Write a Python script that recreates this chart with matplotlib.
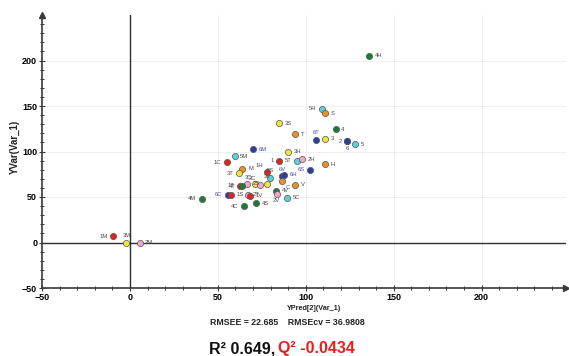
import matplotlib
matplotlib.use("Agg")
import matplotlib.pyplot as plt
from matplotlib.ticker import MultipleLocator

plt.rcParams['font.family'] = ['Liberation Sans', 'DejaVu Sans']

# ---- data ----
labels = ["1M", "3M", "2M", "4M", "4H", "5H", "S", "3S", "T", "4", "6T", "3", "2", "6", "5",
          "6M", "3H", "5M", "1C", "1", "5T", "2H", "H", "6S", "M", "3T", "1H", "5S", "6V", "6H",
          "C", "V", "2S", "3C", "2C", "3V", "1T", "4T", "4V", "6C", "1S", "2T", "1V", "2V", "5C",
          "4C", "4S"]
xpred = [-9.5, -2.0, 5.5, 41.0, 136.0, 109.0, 111.0, 85.0, 94.0, 117.0, 106.0, 111.0, 123.5, 123.5, 128.0,
         70.0, 90.0, 59.5, 55.0, 85.0, 95.0, 97.7, 111.0, 102.5, 64.0, 62.0, 78.0, 79.7, 86.4, 87.7,
         86.4, 94.0, 66.5, 71.2, 74.0, 78.2, 62.7, 63.6, 83.0, 55.8, 57.3, 66.9, 68.4, 83.5, 89.4,
         64.6, 71.6]
yvar = [7.0, 0.0, 0.0, 48.0, 205.0, 147.0, 142.0, 131.0, 119.0, 124.5, 113.0, 114.0, 111.5, 111.5, 108.0,
        102.5, 100.0, 95.0, 88.0, 90.0, 90.0, 91.6, 86.0, 80.0, 81.0, 76.0, 77.5, 71.0, 72.6, 74.5,
        68.0, 63.5, 64.6, 64.6, 63.5, 64.6, 62.4, 61.7, 57.0, 52.2, 52.4, 52.6, 51.5, 53.7, 49.0,
        40.0, 43.0]
series = ["1", "3", "2", "4", "4", "5", "0", "3", "0", "4", "6", "3", "6", "6", "5",
          "6", "3", "5", "1", "1", "5", "2", "0", "6", "0", "3", "1", "5", "6", "6",
          "0", "0", "2", "3", "2", "3", "1", "4", "4", "6", "1", "2", "1", "2", "5",
          "4", "4"]
label_side = ["l", "u", "r", "l", "r", "l", "r", "r", "r", "r", "u", "r", "l", "d", "r",
              "r", "r", "r", "l", "l", "l", "r", "r", "l", "r", "l", "ul", "u", "u", "r",
              "dr", "r", "r", "ul", "ul", "u", "l", "l", "r", "l", "r", "r", "r", "d", "r",
              "l", "r"]

rmsee_text = "RMSEE = 22.685    RMSEcv = 36.9808"
r2_text = "R² 0.649,"
q2_text = "Q² -0.0434"

# ---- style ----
colors = {"0": "#e8922a", "1": "#e02424", "2": "#f3a6c8", "3": "#f0e33c",
          "4": "#1e7b34", "5": "#5ccfd8", "6": "#2b3f9e"}
offsets = {"r": ((4, 0), "left", "center"), "l": ((-4, 0), "right", "center"),
           "u": ((0, 3.5), "center", "bottom"), "d": ((0, -3.5), "center", "top"),
           "ul": ((-2.5, 3), "right", "bottom"), "dr": ((2.5, -3), "left", "top")}

fig = plt.figure(figsize=(5.69, 3.56), dpi=100)
W, H = 569, 356
ax = fig.add_axes([42 / W, (H - 288) / H, (566 - 42) / W, (288 - 15) / H])
ax.set_xlim(-50, 248)
ax.set_ylim(-50, 250)

for s in ["top", "right"]:
    ax.spines[s].set_visible(False)
for s in ["left", "bottom"]:
    ax.spines[s].set_color("#3a3a3a")
    ax.spines[s].set_linewidth(1.2)
ax.plot(1, 0, ">", color="#3a3a3a", ms=5, transform=ax.transAxes, clip_on=False)
ax.plot(0, 1, "^", color="#3a3a3a", ms=5, transform=ax.transAxes, clip_on=False)

ax.xaxis.set_major_locator(MultipleLocator(50))
ax.yaxis.set_major_locator(MultipleLocator(50))
ax.xaxis.set_minor_locator(MultipleLocator(10))
ax.yaxis.set_minor_locator(MultipleLocator(10))
ax.tick_params(which="major", direction="inout", length=4, width=0.8, color="#3a3a3a",
               labelsize=6.5, pad=1.5)
ax.tick_params(which="minor", direction="inout", length=2.5, width=0.7, color="#3a3a3a")
ax.set_xticks([-50, 0, 50, 100, 150, 200])
ax.set_yticks([-50, 0, 50, 100, 150, 200])
for t in ax.get_xticklabels() + ax.get_yticklabels():
    t.set_fontweight("bold")

ax.grid(True, which="major", color="#ececec", lw=0.6)
ax.set_axisbelow(True)
ax.axhline(0, color="#303030", lw=1.0, zorder=1)
ax.axvline(0, color="#303030", lw=1.0, zorder=1)

for lab, xv, yv, sr, side in zip(labels, xpred, yvar, series, label_side):
    ax.scatter(xv, yv, s=20, color=colors[sr], edgecolors="#555555", linewidths=0.5, zorder=3)
    (dx, dy), ha, va = offsets[side]
    tc = "#4a4ac0" if sr == "6" else "#4a4a4a"
    ax.annotate(lab, (xv, yv), xytext=(dx, dy), textcoords="offset points",
                ha=ha, va=va, fontsize=4.2, color=tc, zorder=4)

fig.text(15 / W, 1 - 147 / H, "YVar(Var_1)", rotation=90, ha="center", va="center",
         fontsize=7, fontweight="bold", color="#222222")
fig.text(314 / W, 1 - 309 / H, "YPred[2](Var_1)", ha="center", va="center",
         fontsize=5.2, fontweight="bold", color="#222222")
fig.text(287 / W, 1 - 322.5 / H, rmsee_text, ha="center", va="center",
         fontsize=6.3, fontweight="bold", color="#222222")
fig.text(209 / W, 1 - 349 / H, r2_text, ha="left", va="center",
         fontsize=11.5, fontweight="bold", color="#111111")
fig.text(278 / W, 1 - 349 / H, q2_text, ha="left", va="center",
         fontsize=11.5, fontweight="bold", color="#e8201c")

fig.savefig("out.png", dpi=100)
